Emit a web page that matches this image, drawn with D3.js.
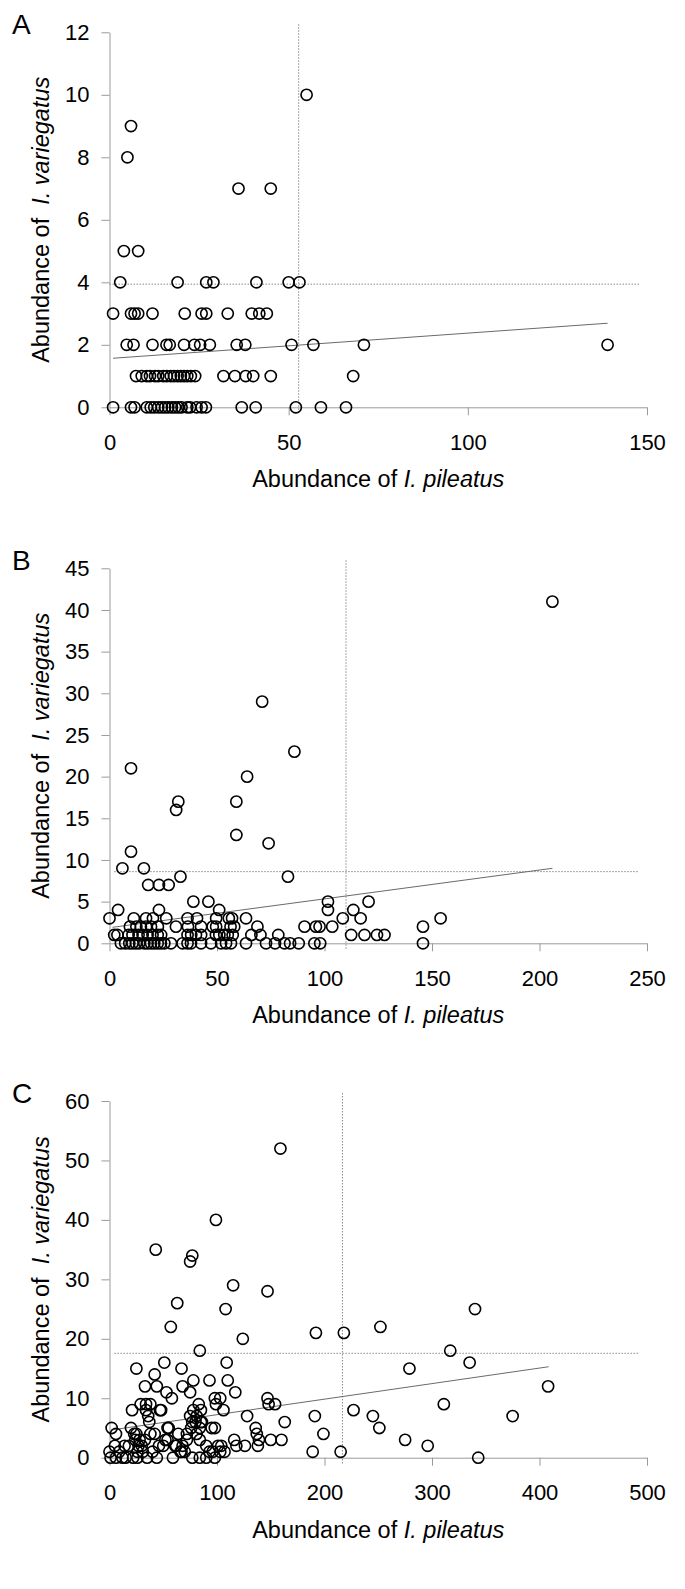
<!DOCTYPE html>
<html><head><meta charset="utf-8">
<script src="https://cdn.jsdelivr.net/npm/d3@7"></script>
<style>
body{margin:0;background:#fff}
svg{display:block}
text{font-family:"Liberation Sans",Arial,Helvetica,sans-serif;fill:#000}
</style>
</head><body>
<svg id="chart" width="685" height="1589"></svg>
<script>
// ---------------- DATA ----------------
const panelLetters = ["A", "B", "C"];
const xTitlePlain = "Abundance of ";
const xTitleItalic = "I. pileatus";
const yTitlePlain = "Abundance of  ";
const yTitleItalic = "I. variegatus";

// Panel A  [I. pileatus, I. variegatus]
const aPoints = [
  [55,10],[6,9],[5,8],[36,7],[45,7],[4,5],[8,5],
  [3,4],[19,4],[27,4],[29,4],[41,4],[50,4],[53,4],
  [1,3],[6,3],[7,3],[8,3],[12,3],[21,3],[25.7,3],[27,3],[33,3],[39.7,3],[41.8,3],[43.9,3],
  [4.8,2],[6.7,2],[12,2],[15.9,2],[16.8,2],[20.8,2],[23.7,2],[25.3,2],[28,2],[35.5,2],[37.9,2],[50.8,2],[56.9,2],[71,2],[139,2],
  [7.4,1],[9,1],[10.4,1],[11.3,1],[12.7,1],[13.6,1],[15,1],[16,1],[17.1,1],[18,1],[19,1],[19.9,1],[20.8,1],[21.7,1],[22.7,1],[23.9,1],[31.8,1],[35,1],[38,1],[40.1,1],[45,1],[68,1],
  [1,0],[6,0],[7,0],[10.4,0],[11.5,0],[12.5,0],[13.6,0],[14.6,0],[15.5,0],[16.4,0],[17.4,0],[18.3,0],[19.2,0],[20.1,0],[21.7,0],[22.5,0],[24.3,0],[25.7,0],[26.9,0],[36.9,0],[40.8,0],[52,0],[59,0],[66,0]
];
const aXTicks = [0, 50, 100, 150];
const aYTicks = [0, 2, 4, 6, 8, 10, 12];
const aTrend = [[1, 1.57], [139, 2.69]];
const aVLineX = 52.8;
const aHLineY = 3.94;
const aHLineRange = [0, 148];

// Panel B
const bPoints = [
  [206,41],[71,29],[86,23],[10,21],[64,20],[32,17],[59,17],[31,16],[59,13],[74,12],[10,11],[6,9],[16,9],[33,8],[83,8],[18,7],[23,7],[27.5,7],
  [39,5],[46,5],[101.6,5],[120.5,5],
  [4,4],[23,4],[51,4],[101.6,4],[113.4,4],
  [0,3],[11.3,3],[17,3],[20.2,3],[26.4,3],[36.3,3],[40.7,3],[49.6,3],[55.5,3],[57,3],[63.5,3],[108.5,3],[116.8,3],[154,3],
  [9.5,2],[12.5,2],[14.6,2],[17,2],[19.3,2],[22.5,2],[30.9,2],[36.5,2],[42.6,2],[48,2],[49.6,2],[56.3,2],[58,2],[68.8,2],[90.7,2],[96,2],[97.7,2],[103.6,2],[145.8,2],
  [2.2,1],[3.7,1],[8.9,1],[10.7,1],[13.5,1],[15.4,1],[17.7,1],[20,1],[22.4,1],[24,1],[36.3,1],[38,1],[40.2,1],[42.6,1],[49.5,1],[51.1,1],[53.4,1],[55,1],[57.3,1],[66,1],[70.2,1],[78.5,1],[112.4,1],[118.6,1],[124.4,1],[127.9,1],
  [5.3,0],[7.3,0],[9.2,0],[10.7,0],[12.3,0],[13.8,0],[16.2,0],[17.7,0],[19.3,0],[20.8,0],[22.4,0],[23.9,0],[25.5,0],[28.6,0],[34,0],[36.3,0],[37.9,0],[42.6,0],[47.2,0],[51.9,0],[54.2,0],[56.5,0],[63.5,0],[72.8,0],[77,0],[81.4,0],[84,0],[88,0],[95.3,0],[98,0],[145.8,0]
];
const bXTicks = [0, 50, 100, 150, 200, 250];
const bYTicks = [0, 5, 10, 15, 20, 25, 30, 35, 40, 45];
const bTrend = [[1.4, 1.92], [206, 9.0]];
const bVLineX = 110;
const bHLineY = 8.6;
const bHLineRange = [2.2, 246];

// Panel C
const cPoints = [
  [159,52],[99,40],[43,35],[77,34],[75,33],[115,29],[147,28],[63,26],[108,25],[57,22],[124,20],[192,21],[218,21],[252,22],[340,25],
  [317,18],[335,16],[279,15],[408,12],[311,9],[375,7],[227,8],[245,7],[251,5],[275,3],[296,2],[343,0],[191,7],[199,4],[189,1],[215,1],
  [84,18],[25,15],[51,16],[67,15],[109,16],[42,14],[33,12],[44,12],[68,12],[78,13],[93,13],[110,13],[53,11],[75,11],[117,11],
  [58,10],[98,10],[103,10],[99,9],[147,10],[148,9],[154,9],[106,8],[21,8],[83,9],[85,8],[128,7],[163,6],[160,3],[150,3],
  [136,5],[137,4],[139,3],[138,2],[126,2],[116,3],[118,2],[104,2],[98,5],[95,5],[93,1],[107,1],[84,3],[81,4],[84,0],[90,0],[98,0],[77,0],
  [59,0],[67,1],[70,1],[62,2],[55,5],[52,3],[46,2],[48,8],
  [2,5],[6,4],[0,1],[5,2],[1,0],[6,0],[12,0],[15,0],[14,2],[20,5],[23,4],[25,4],[28,3],[24,3],[30,2],[27,2],[33,3],[31,1],[26,1],[22,0],[26,0],[35,0],
  [29,9],[34,9],[38,9],[34,8],[36,7],[37,6],[47,8],[38,4],[42,4],[54,5],[50,2],[54,3],[61,2],[64,4],[72,4],[76,5],[77,6],[81,7],[85,6],[84,5],
  [75,7],[78,8],[80,6],[86,6],[72,3],[68,2],[66,1],[90,2],[96,1],[101,2],[103,1],[9,1],[18,2],[40,1],[44,0]
];
const cXTicks = [0, 100, 200, 300, 400, 500];
const cYTicks = [0, 10, 20, 30, 40, 50, 60];
const cTrend = [[1.6, 4.66], [408.5, 15.3]];
const cVLineX = 216.7;
const cHLineY = 17.56;
const cHLineRange = [4.6, 492.5];

// ---------------- LAYOUT ----------------
const panels = [
  {letter: panelLetters[0], pts: aPoints, xTicks: aXTicks, yTicks: aYTicks, trend: aTrend, vx: aVLineX, hy: aHLineY, hr: aHLineRange, top: 32.3, bottom: 407.3},
  {letter: panelLetters[1], pts: bPoints, xTicks: bXTicks, yTicks: bYTicks, trend: bTrend, vx: bVLineX, hy: bHLineY, hr: bHLineRange, top: 568.3, bottom: 943.3},
  {letter: panelLetters[2], pts: cPoints, xTicks: cXTicks, yTicks: cYTicks, trend: cTrend, vx: cVLineX, hy: cHLineY, hr: cHLineRange, top: 1101, bottom: 1457.7}
];
const LEFT = 109.5, RIGHT = 647;
const axisColor = "#9a9a9a";
const refColor = "#8a8a8a";

const svg = d3.select("#chart");

panels.forEach(p => {
  const xDom = [p.xTicks[0], p.xTicks[p.xTicks.length - 1]];
  const yDom = [p.yTicks[0], p.yTicks[p.yTicks.length - 1]];
  const x = d3.scaleLinear().domain(xDom).range([LEFT, RIGHT]);
  const y = d3.scaleLinear().domain(yDom).range([p.bottom, p.top]);
  const g = svg.append("g");

  // y axis
  const ya = g.append("g").attr("transform", `translate(${LEFT},0)`)
    .call(d3.axisLeft(y).tickValues(p.yTicks).tickSize(8).tickSizeOuter(0).tickPadding(12));
  // x axis
  const xa = g.append("g").attr("transform", `translate(0,${p.bottom})`)
    .call(d3.axisBottom(x).tickValues(p.xTicks).tickSize(8).tickSizeOuter(0).tickPadding(19));
  [ya, xa].forEach(a => {
    a.select(".domain").attr("stroke", axisColor).attr("stroke-width", 1);
    a.selectAll(".tick line").attr("stroke", axisColor).attr("stroke-width", 1);
    a.selectAll(".tick text").attr("font-size", 22).attr("fill", "#000")
      .attr("font-family", '"Liberation Sans", Arial, sans-serif');
  });

  // reference dotted lines
  const pxPerY = (p.bottom - p.top) / (yDom[1] - yDom[0]);
  g.append("line")
    .attr("x1", x(p.vx)).attr("x2", x(p.vx))
    .attr("y1", y(yDom[1] + 8 / pxPerY)).attr("y2", y(yDom[0] - 6 / pxPerY))
    .attr("stroke", refColor).attr("stroke-width", 1).attr("stroke-dasharray", "1.5,1.5");
  g.append("line")
    .attr("x1", x(p.hr[0])).attr("x2", x(p.hr[1]))
    .attr("y1", y(p.hy)).attr("y2", y(p.hy))
    .attr("stroke", refColor).attr("stroke-width", 1).attr("stroke-dasharray", "1.5,1.5");

  // trend line
  g.append("path")
    .datum(p.trend)
    .attr("d", d3.line().x(d => x(d[0])).y(d => y(d[1])))
    .attr("fill", "none").attr("stroke", "#6a6a6a").attr("stroke-width", 1);

  // points
  g.append("g").selectAll("circle").data(p.pts).join("circle")
    .attr("cx", d => x(d[0])).attr("cy", d => y(d[1])).attr("r", 5.6)
    .attr("fill", "none").attr("stroke", "#000").attr("stroke-width", 1.6);

  // panel letter
  g.append("text").attr("x", 12).attr("y", p.top + 1.5)
    .attr("font-size", 28).text(p.letter);

  // x title
  const xt = g.append("text").attr("x", (LEFT + RIGHT) / 2).attr("y", p.bottom + 80)
    .attr("text-anchor", "middle").attr("font-size", 23.5);
  xt.append("tspan").text(xTitlePlain);
  xt.append("tspan").attr("font-style", "italic").text(xTitleItalic);

  // y title
  const yt = g.append("text")
    .attr("transform", `translate(49,${(p.top + p.bottom) / 2}) rotate(-90)`)
    .attr("text-anchor", "middle").attr("font-size", 23.5)
    .style("white-space", "pre");
  yt.append("tspan").text(yTitlePlain);
  yt.append("tspan").attr("font-style", "italic").text(yTitleItalic);
});
</script>
</body></html>
